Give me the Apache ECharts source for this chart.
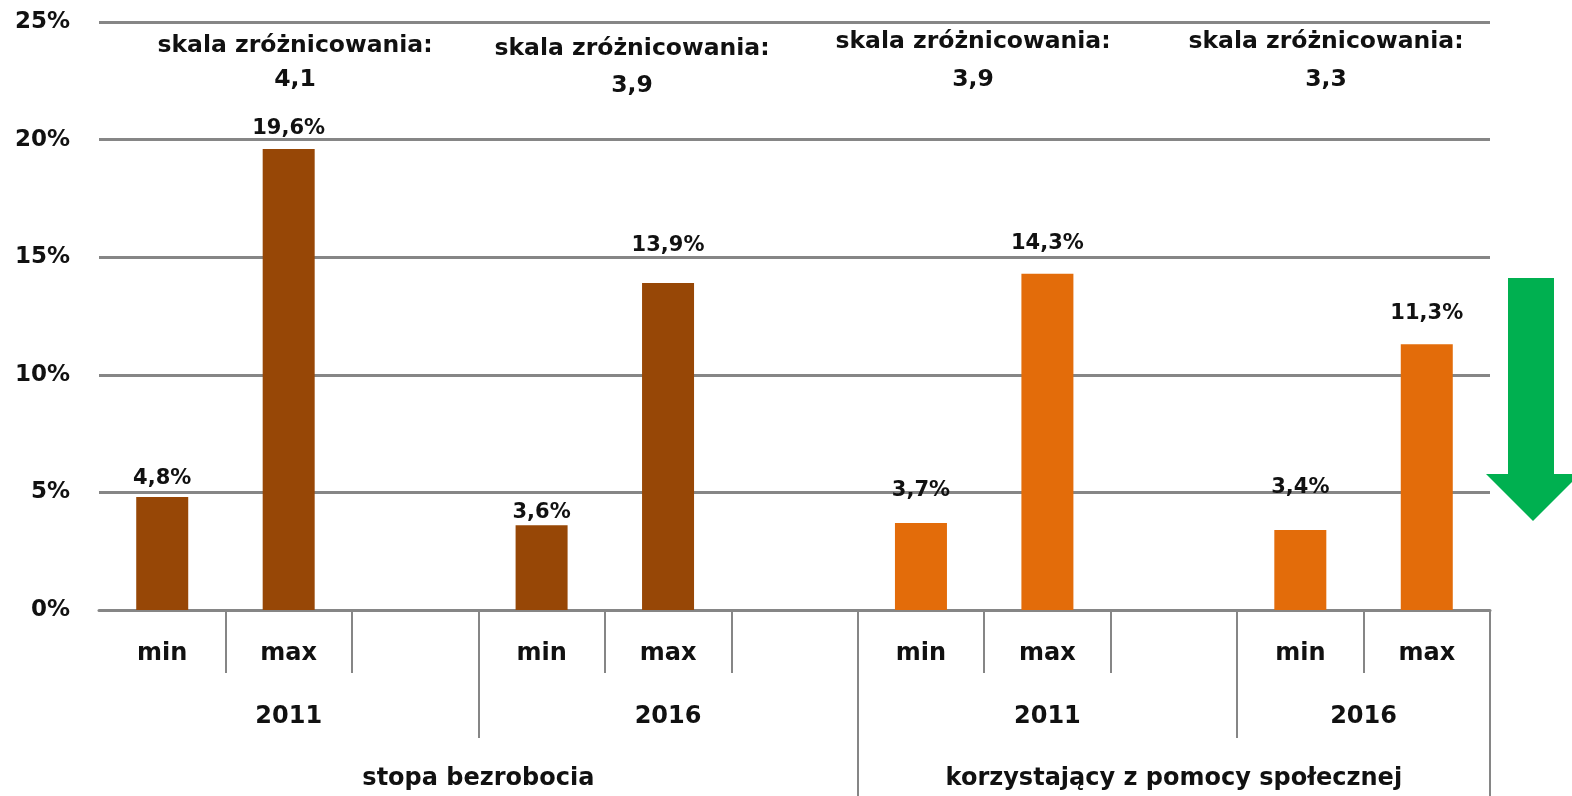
<!DOCTYPE html>
<html>
<head>
<meta charset="utf-8">
<script src="https://cdn.jsdelivr.net/npm/echarts@6/dist/echarts.min.js"></script>
<style>
  html, body { margin: 0; padding: 0; background: #fff; }
  #chart { width: 1572px; height: 796px; }
</style>
</head>
<body>
<div id="chart"></div>
<script>
// slot labels of the lowest level (11 slots, empty ones are spacers)
const slotLabels = ['min', 'max', '', 'min', 'max', '', 'min', 'max', '', 'min', 'max']
// values in %, null = empty slot
const values = [4.8, 19.6, null, 3.6, 13.9, null, 3.7, 14.3, null, 3.4, 11.3]
const years = ['2011', '2016', '2011', '2016']
const groups = ['stopa bezrobocia', 'korzystający z pomocy społecznej']
const spreadValues = ['4,1', '3,9', '3,9', '3,3']
const yTicks = [0, 5, 10, 15, 20, 25]

const FONT = 'DejaVu Sans'
const GRID_COLOR = '#868686'
const BROWN = '#974706'
const ORANGE = '#E36C0A'

// manual label lift above each bar (as placed in the source)
const labelLift = [8, 10, 0, 2, 27, 0, 22, 20, 0, 32, 20]

// helper axis of 23 points on half slots (0, 0.5, ... 11)
const points = []
for (let i = 0; i <= 22; i++) points.push('p' + i)
const yearAt = { 3: years[0], 9: years[1], 15: years[2], 20: years[3] }
const groupAt = { 6: groups[0], 17: groups[1] }
const sepShort = [2, 4, 8, 10, 14, 16, 20]
const sepMid = [6, 18]
const sepLong = [12, 22]

const chart = echarts.init(document.getElementById('chart'))

const labelFont = { fontFamily: FONT, fontWeight: 'bold', fontSize: 24, color: '#111' }

function helperAxis(ticks, len, labels, margin) {
  return {
    type: 'category',
    position: 'bottom',
    boundaryGap: false,
    data: points,
    axisLine: { show: false },
    axisTick: {
      show: true,
      length: len,
      interval: (i) => ticks.includes(i),
      lineStyle: { color: GRID_COLOR, width: 2 }
    },
    axisLabel: {
      ...labelFont,
      interval: 0,
      margin: margin,
      formatter: (v, i) => labels[i] || ''
    },
    splitLine: { show: false }
  }
}

const barData = values.map((v, i) => ({
  value: v,
  itemStyle: { color: i < 6 ? BROWN : ORANGE },
  label: { distance: labelLift[i] }
}))

const graphics = []
const annX = [295, 632, 973, 1326]
const annY1 = [46, 49, 42, 42]
const annY2 = [80, 86, 80, 80]
spreadValues.forEach((s, i) => {
  graphics.push({
    type: 'text', x: annX[i], y: annY1[i],
    style: { text: 'skala zróżnicowania:', font: 'bold 23.5px ' + FONT, fill: '#111', textAlign: 'center', textVerticalAlign: 'middle' }
  })
  graphics.push({
    type: 'text', x: annX[i], y: annY2[i],
    style: { text: s, font: 'bold 23.5px ' + FONT, fill: '#111', textAlign: 'center', textVerticalAlign: 'middle' }
  })
})
// green down arrow on the right
graphics.push({
  type: 'polygon',
  shape: { points: [[1508, 278], [1554, 278], [1554, 474], [1580, 474], [1533, 521], [1486, 474], [1508, 474]] },
  style: { fill: '#00B050' }
})

const option = {
  backgroundColor: '#fff',
  animation: false,
  grid: { left: 99, right: 82, top: 22, bottom: 186 },
  xAxis: [
    {
      type: 'category',
      data: slotLabels.map((s, i) => 's' + i),
      axisLine: { show: true, lineStyle: { color: GRID_COLOR, width: 3 } },
      axisTick: { show: false },
      axisLabel: { ...labelFont, interval: 0, margin: 32, formatter: (v, i) => slotLabels[i] }
    },
    helperAxis(sepShort, 63, {}, 0),
    helperAxis(sepMid, 128, yearAt, 95),
    helperAxis(sepLong, 186, groupAt, 157)
  ],
  yAxis: {
    type: 'value',
    min: yTicks[0],
    max: yTicks[yTicks.length - 1],
    interval: 5,
    axisLine: { show: false },
    axisTick: { show: false },
    splitLine: { lineStyle: { color: GRID_COLOR, width: 3 } },
    axisLabel: { ...labelFont, fontSize: 23, margin: 29, formatter: '{value}%' }
  },
  series: [
    {
      type: 'bar',
      xAxisIndex: 0,
      barWidth: 52,
      data: barData,
      label: {
        show: true,
        position: 'top',
        ...labelFont,
        fontSize: 21,
        formatter: (p) => p.value == null ? '' : p.value.toFixed(1).replace('.', ',') + '%'
      }
    }
  ],
  graphic: graphics
}

chart.setOption(option)
</script>
</body>
</html>
